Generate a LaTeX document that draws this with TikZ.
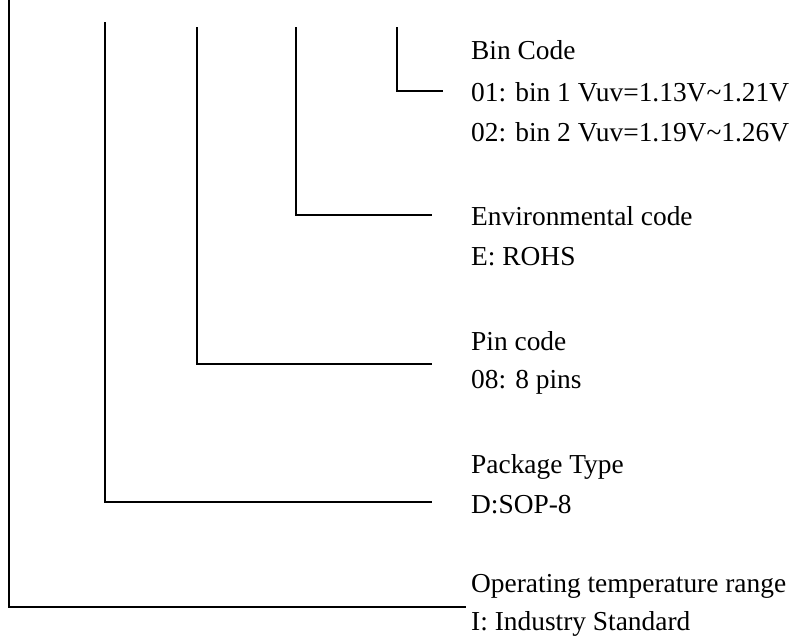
\documentclass[tikz,border=0pt]{standalone}
\usepackage{fontspec}
\setmainfont{Liberation Serif}
\begin{document}
\begin{tikzpicture}[x=1pt,y=-1pt,
  lbl/.style={anchor=base west,inner sep=0pt,font=\fontsize{27.4}{30}\selectfont},
  lead/.style={line width=1.7pt,line cap=rect}]
\useasboundingbox (0,0) rectangle (797,637);
% texts
\node[lbl] (t1a) at (471,592) {Operating temperature range};
\node[lbl] (t1b) at (471,630) {I: Industry Standard};
\node[lbl] (t2a) at (471,473) {Package Type};
\node[lbl] (t2b) at (471,513) {D:SOP-8};
\node[lbl] (t3a) at (471,350) {Pin code};
\node[lbl] (t3b) at (471,388) {08: 8 pins};
\node[lbl] (t4a) at (471,225) {Environmental code};
\node[lbl] (t4b) at (471,265) {E: ROHS};
\node[lbl] (t5a) at (471,59) {Bin Code};
\node[lbl] (t5b) at (471,101) {01: bin 1 Vuv=1.13V\textasciitilde1.21V};
\node[lbl] (t5c) at (471,141) {02: bin 2 Vuv=1.19V\textasciitilde1.26V};
% leader ends
\coordinate (s1) at (9,0);    \coordinate (e1) at (465,607);
\coordinate (s2) at (105,23); \coordinate (e2) at (431,502);
\coordinate (s3) at (197,28); \coordinate (e3) at (431,364);
\coordinate (s4) at (296,28); \coordinate (e4) at (431,215);
\coordinate (s5) at (397,28); \coordinate (e5) at (442,91);
\draw[lead] (s1) |- (e1);
\draw[lead] (s2) |- (e2);
\draw[lead] (s3) |- (e3);
\draw[lead] (s4) |- (e4);
\draw[lead] (s5) |- (e5);
\end{tikzpicture}
\end{document}
